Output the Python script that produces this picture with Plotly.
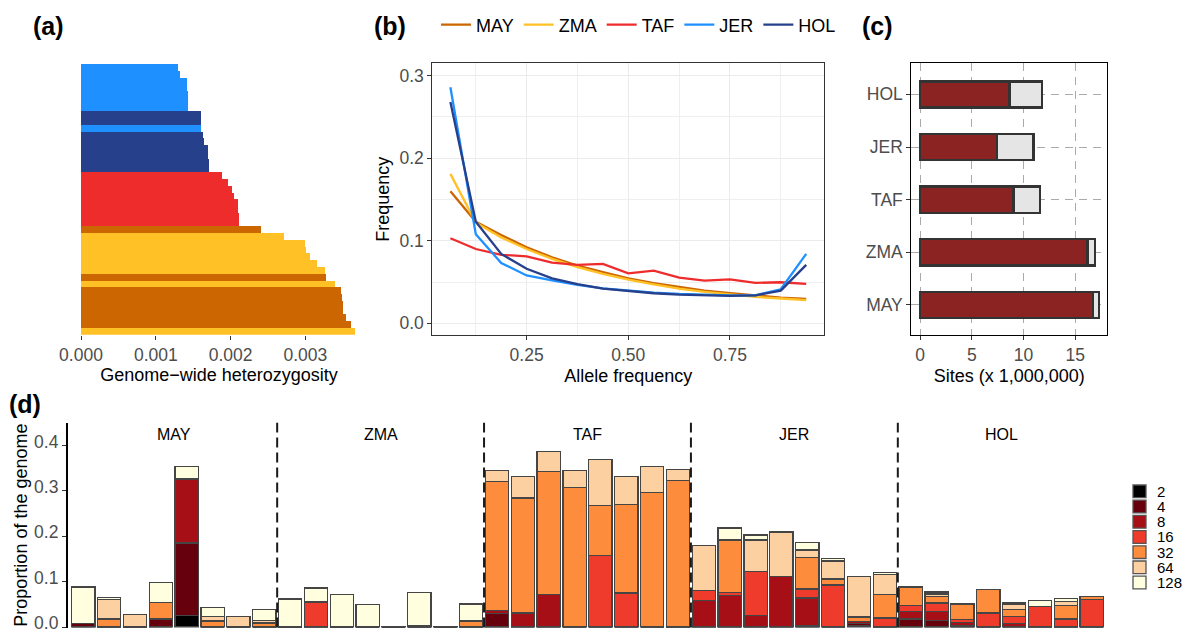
import plotly.graph_objects as go

W, H = 1186, 634
FONT = "Liberation Sans, Arial, sans-serif"
TICK_C = "#4D4D4D"

# ---------------- (a) genome-wide heterozygosity (sorted, top -> bottom) ----
het_pop = (["JER"] * 7 + ["HOL"] * 2 + ["JER"] + ["HOL"] * 6 + ["TAF"] * 8 +
           ["MAY"] + ["ZMA"] * 6 + ["MAY"] + ["ZMA"] + ["MAY"] * 6 + ["ZMA"])
het_val = [0.001293, 0.001329, 0.001420, 0.001423, 0.001425, 0.001427, 0.001428,
           0.001600, 0.001600, 0.001601, 0.001627, 0.001640, 0.001693, 0.001695,
           0.001707, 0.001709, 0.001880, 0.001960, 0.002013, 0.002040, 0.002093,
           0.002095, 0.002107, 0.002109, 0.002413, 0.002720, 0.003000, 0.003002,
           0.003067, 0.003160, 0.003267, 0.003280, 0.003400, 0.003480, 0.003493,
           0.003507, 0.003509, 0.003547, 0.003613, 0.003667]
het_ticks = [0.000, 0.001, 0.002, 0.003]

# ---------------- (b) site frequency spectrum ------------------------------
pops = ["MAY", "ZMA", "TAF", "JER", "HOL"]
af_bins = [0.0625, 0.125, 0.1875, 0.25, 0.3125, 0.375, 0.4375, 0.5,
           0.5625, 0.625, 0.6875, 0.75, 0.8125, 0.875, 0.9375]
sfs_MAY = [0.160, 0.123, 0.107, 0.092, 0.080, 0.070, 0.062, 0.0545,
           0.0485, 0.0436, 0.0396, 0.0364, 0.0335, 0.0311, 0.0295]
sfs_ZMA = [0.181, 0.122, 0.104, 0.090, 0.078, 0.068, 0.060, 0.053,
           0.047, 0.042, 0.038, 0.035, 0.032, 0.030, 0.028]
sfs_TAF = [0.103, 0.090, 0.083, 0.081, 0.0735, 0.0707, 0.0719, 0.0606,
           0.0638, 0.0554, 0.0517, 0.0533, 0.0489, 0.0497, 0.0477]
sfs_JER = [0.286, 0.108, 0.073, 0.058, 0.052, 0.0465, 0.0424, 0.0396,
           0.0372, 0.0356, 0.0343, 0.0339, 0.0339, 0.0412, 0.084]
sfs_HOL = [0.268, 0.123, 0.084, 0.066, 0.0545, 0.0473, 0.042, 0.0388,
           0.0364, 0.0347, 0.0335, 0.0331, 0.0339, 0.0396, 0.0707]
pop_colors = {"MAY": "#CC6600", "ZMA": "#FFC125", "TAF": "#EE2C2C",
              "JER": "#1E90FF", "HOL": "#27408B"}

# ---------------- (c) sites ------------------------------------------------
site_pops = ["MAY", "ZMA", "TAF", "JER", "HOL"]
sites_dark = [16.7, 16.2, 9.03, 7.45, 8.65]
sites_light = [0.6, 0.7, 2.57, 3.49, 3.15]
site_ticks = [0, 5, 10, 15]

# ---------------- (d) ROH proportions per individual -----------------------
roh_groups = ["MAY", "ZMA", "TAF", "JER", "HOL"]
roh_per_group = 8
roh_classes = ["2", "4", "8", "16", "32", "64", "128"]
roh_2 = [0, 0, 0, 0, 0.026, 0, 0, 0,
         0, 0, 0, 0, 0, 0, 0, 0,
         0, 0, 0, 0, 0, 0, 0, 0,
         0, 0, 0, 0, 0, 0, 0.004, 0,
         0, 0, 0, 0, 0, 0, 0, 0]
roh_4 = [0.008, 0, 0, 0.018, 0.159, 0, 0, 0,
         0, 0, 0, 0, 0, 0, 0, 0,
         0.030, 0, 0, 0, 0, 0, 0, 0,
         0, 0, 0, 0, 0.004, 0, 0.004, 0,
         0.018, 0.015, 0.004, 0, 0, 0, 0, 0]
roh_8 = [0, 0, 0, 0, 0.141, 0, 0, 0,
         0, 0, 0, 0, 0, 0, 0, 0,
         0.006, 0.031, 0.072, 0, 0, 0, 0, 0,
         0.059, 0.070, 0.026, 0.112, 0.060, 0, 0.004, 0,
         0.016, 0.020, 0.006, 0, 0.008, 0, 0, 0]
roh_16 = [0, 0, 0, 0, 0, 0, 0, 0,
          0, 0.055, 0, 0, 0, 0, 0, 0,
          0, 0, 0, 0, 0.157, 0.075, 0, 0,
          0.022, 0.006, 0.097, 0, 0.020, 0.0925, 0, 0.020,
          0.013, 0.018, 0.007, 0.031, 0.015, 0.046, 0.018, 0.061]
roh_32 = [0, 0.018, 0, 0.036, 0, 0.013, 0, 0.009,
          0, 0, 0, 0, 0, 0.003, 0, 0.013,
          0.285, 0.253, 0.271, 0.307, 0.110, 0.195, 0.297, 0.323,
          0, 0.116, 0, 0, 0.069, 0.013, 0.010, 0.052,
          0.041, 0.015, 0.034, 0.052, 0.016, 0, 0.029, 0.007]
roh_64 = [0, 0.042, 0.028, 0, 0, 0.010, 0.023, 0.006,
          0, 0, 0, 0, 0, 0, 0, 0,
          0.024, 0.048, 0.044, 0.037, 0.102, 0.062, 0.057, 0.024,
          0.098, 0, 0.069, 0.097, 0.017, 0.040, 0.089, 0.043,
          0.002, 0.005, 0, 0, 0.011, 0, 0.010, 0]
roh_128 = [0.080, 0.005, 0, 0.044, 0.028, 0.020, 0, 0.024,
           0.062, 0.031, 0.071, 0.049, 0.001, 0.073, 0.001, 0.038,
           0, 0, 0, 0, 0, 0, 0, 0,
           0, 0.026, 0.011, 0, 0.016, 0.005, 0, 0.005,
           0, 0.004, 0, 0, 0.003, 0.012, 0.006, 0]
roh_ticks = [0.0, 0.1, 0.2, 0.3, 0.4]
roh_colors = ["#000000", "#67000D", "#A50F15", "#EF3B2C", "#FD8D3C", "#FDD0A2", "#FFFFE0"]


def px(x):
    return x / W


def py(y):
    return 1 - y / H


fig = go.Figure()

# (a)
fig.add_trace(go.Bar(
    x=het_val, y=list(range(len(het_val))), orientation="h", width=1.0,
    marker=dict(color=[pop_colors[p] for p in het_pop], line=dict(width=0)),
    xaxis="x", yaxis="y", showlegend=False, hoverinfo="skip"))

# (b)
for pop, vals in zip(pops, [sfs_MAY, sfs_ZMA, sfs_TAF, sfs_JER, sfs_HOL]):
    fig.add_trace(go.Scatter(
        x=af_bins, y=vals, mode="lines", name=pop,
        line=dict(color=pop_colors[pop], width=2.3),
        xaxis="x2", yaxis="y2", legend="legend"))

# (c)
fig.add_trace(go.Bar(
    x=sites_dark, y=site_pops, orientation="h", width=0.5,
    marker=dict(color="#8B2323", line=dict(color="#333333", width=2.6)),
    xaxis="x3", yaxis="y3", showlegend=False, hoverinfo="skip"))
fig.add_trace(go.Bar(
    x=sites_light, y=site_pops, orientation="h", width=0.5,
    marker=dict(color="#E5E5E5", line=dict(color="#333333", width=2.6)),
    xaxis="x3", yaxis="y3", showlegend=False, hoverinfo="skip"))

# (d)
n_ind = len(roh_2)
idx = list(range(n_ind))
for cls, vals, col in zip(roh_classes,
                          [roh_2, roh_4, roh_8, roh_16, roh_32, roh_64, roh_128],
                          roh_colors):
    fig.add_trace(go.Bar(
        x=idx, y=vals, width=0.9, name=cls,
        marker=dict(color=col, line=dict(color="#454545", width=1.3)),
        xaxis="x4", yaxis="y4", showlegend=False, hoverinfo="skip"))

tickfont = dict(family=FONT, size=17.5, color=TICK_C)
titlefont = dict(family=FONT, size=18, color="black")

shapes = []
annotations = []

# facet separators and labels for (d)
for g, name in enumerate(roh_groups):
    if g > 0:
        xs = g * roh_per_group - 0.5
        shapes.append(dict(type="line", xref="x4", yref="y4 domain", x0=xs, x1=xs,
                           y0=0, y1=1, line=dict(color="#1a1a1a", width=2, dash="10px,5px")))
    annotations.append(dict(text=name, xref="x4", yref="paper",
                            x=g * roh_per_group + (roh_per_group - 1) / 2, y=py(435),
                            xanchor="center", yanchor="middle",
                            showarrow=False, font=dict(family=FONT, size=16, color="black")))

# manual legend for (d)
for i, (cls, col) in enumerate(zip(roh_classes, roh_colors)):
    top = 485 + i * 15.2
    shapes.append(dict(type="rect", xref="paper", yref="paper",
                       x0=px(1133), x1=px(1146), y0=py(top + 12.7), y1=py(top),
                       fillcolor=col, line=dict(color="#555555", width=1.3)))
    annotations.append(dict(text=cls, xref="paper", yref="paper", x=px(1155),
                            y=py(top + 6.3), xanchor="left", yanchor="middle",
                            showarrow=False, font=dict(family=FONT, size=15, color="black")))

# panel letters
for lab, x, y in [("(a)", 48, 26), ("(b)", 390, 26), ("(c)", 877, 26), ("(d)", 25, 404)]:
    annotations.append(dict(text="<b>%s</b>" % lab, xref="paper", yref="paper", x=px(x), y=py(y),
                            showarrow=False, xanchor="center", yanchor="middle",
                            font=dict(family=FONT, size=25, color="black")))

fig.update_layout(
    width=W, height=H, autosize=False,
    margin=dict(l=0, r=0, t=0, b=0, pad=0, autoexpand=False),
    paper_bgcolor="white", plot_bgcolor="white",
    font=dict(family=FONT),
    barmode="stack",
    shapes=shapes, annotations=annotations,
    legend=dict(orientation="h", x=px(436), y=py(25), xanchor="left", yanchor="middle",
                font=dict(family=FONT, size=18, color="black"), bgcolor="rgba(0,0,0,0)",
                traceorder="normal"),
    # (a)
    xaxis=dict(domain=[px(81), px(357)], range=[0, 0.00369], anchor="y", automargin=False,
               tickvals=het_ticks, tickformat=".3f", ticks="outside", ticklen=4,
               tickcolor="#333333", showgrid=False, zeroline=False, showline=False,
               tickfont=tickfont,
               title=dict(text="Genome\u2212wide heterozygosity", font=titlefont, standoff=4)),
    yaxis=dict(domain=[py(334.7), py(64)], range=[len(het_val) - 0.5, -0.5],
               anchor="x", visible=False, automargin=False),
    # (b)
    xaxis2=dict(domain=[px(432.3), px(824.3)], range=[0.018, 0.982], anchor="y2",
                automargin=False,
                tickvals=[0.25, 0.5, 0.75], tickformat=".2f", ticks="outside", ticklen=4,
                tickcolor="#333333", showline=True, mirror=True, linecolor="#333333",
                linewidth=1, showgrid=True, gridcolor="#EBEBEB", gridwidth=1,
                minor=dict(tickvals=[0.125, 0.375, 0.625, 0.875], showgrid=True,
                           gridcolor="#EFEFEF", gridwidth=0.6, ticks=""),
                zeroline=False, tickfont=tickfont,
                title=dict(text="Allele frequency", font=titlefont, standoff=5)),
    yaxis2=dict(domain=[py(335), py(63.3)], range=[-0.0142, 0.315], anchor="x2",
                automargin=False,
                tickvals=[0.0, 0.1, 0.2, 0.3], tickformat=".1f", ticks="outside", ticklen=4,
                tickcolor="#333333", showline=True, mirror=True, linecolor="#333333",
                linewidth=1, showgrid=True, gridcolor="#EBEBEB", gridwidth=1,
                minor=dict(tickvals=[0.05, 0.15, 0.25], showgrid=True,
                           gridcolor="#EFEFEF", gridwidth=0.6, ticks=""),
                zeroline=False, tickfont=tickfont,
                title=dict(text="Frequency", font=titlefont, standoff=5)),
    # (c)
    xaxis3=dict(domain=[px(911.3), px(1107.3)], range=[-0.84, 18.09], anchor="y3",
                automargin=False,
                tickvals=site_ticks, ticks="outside", ticklen=4, tickcolor="#333333",
                showline=True, mirror=True, linecolor="black", linewidth=1,
                showgrid=True, gridcolor="#AAAAAA", gridwidth=1.4, griddash="8px,6px",
                zeroline=False, tickfont=tickfont,
                title=dict(text="Sites (x 1,000,000)", font=titlefont, standoff=5)),
    yaxis3=dict(domain=[py(335), py(63.3)], range=[-0.57, 4.59], anchor="x3",
                automargin=False,
                type="category", categoryorder="array", categoryarray=site_pops,
                ticks="outside", ticklen=4, tickcolor="#333333",
                showline=True, mirror=True, linecolor="black", linewidth=1,
                showgrid=True, gridcolor="#AAAAAA", gridwidth=1.4, griddash="8px,6px",
                zeroline=False, tickfont=tickfont),
    # (d)
    xaxis4=dict(domain=[px(67.7), px(1104.7)], range=[-0.6, n_ind - 0.5], anchor="y4",
                visible=False, automargin=False),
    yaxis4=dict(domain=[py(627.5), py(422.7)], range=[-0.001, 0.45], anchor="x4",
                automargin=False, ticklabeloverflow="allow", ticklabelshift=-4,
                tickvals=roh_ticks, tickformat=".1f", ticks="outside", ticklen=4,
                tickcolor="#333333", showline=True, linecolor="black", linewidth=1.5,
                showgrid=False, zeroline=False, tickfont=tickfont,
                title=dict(text="Proportion of the genome", font=titlefont, standoff=2)),
)

fig.write_html("out.html", config={"displayModeBar": False},
               post_script="document.body.style.margin='0px';")
